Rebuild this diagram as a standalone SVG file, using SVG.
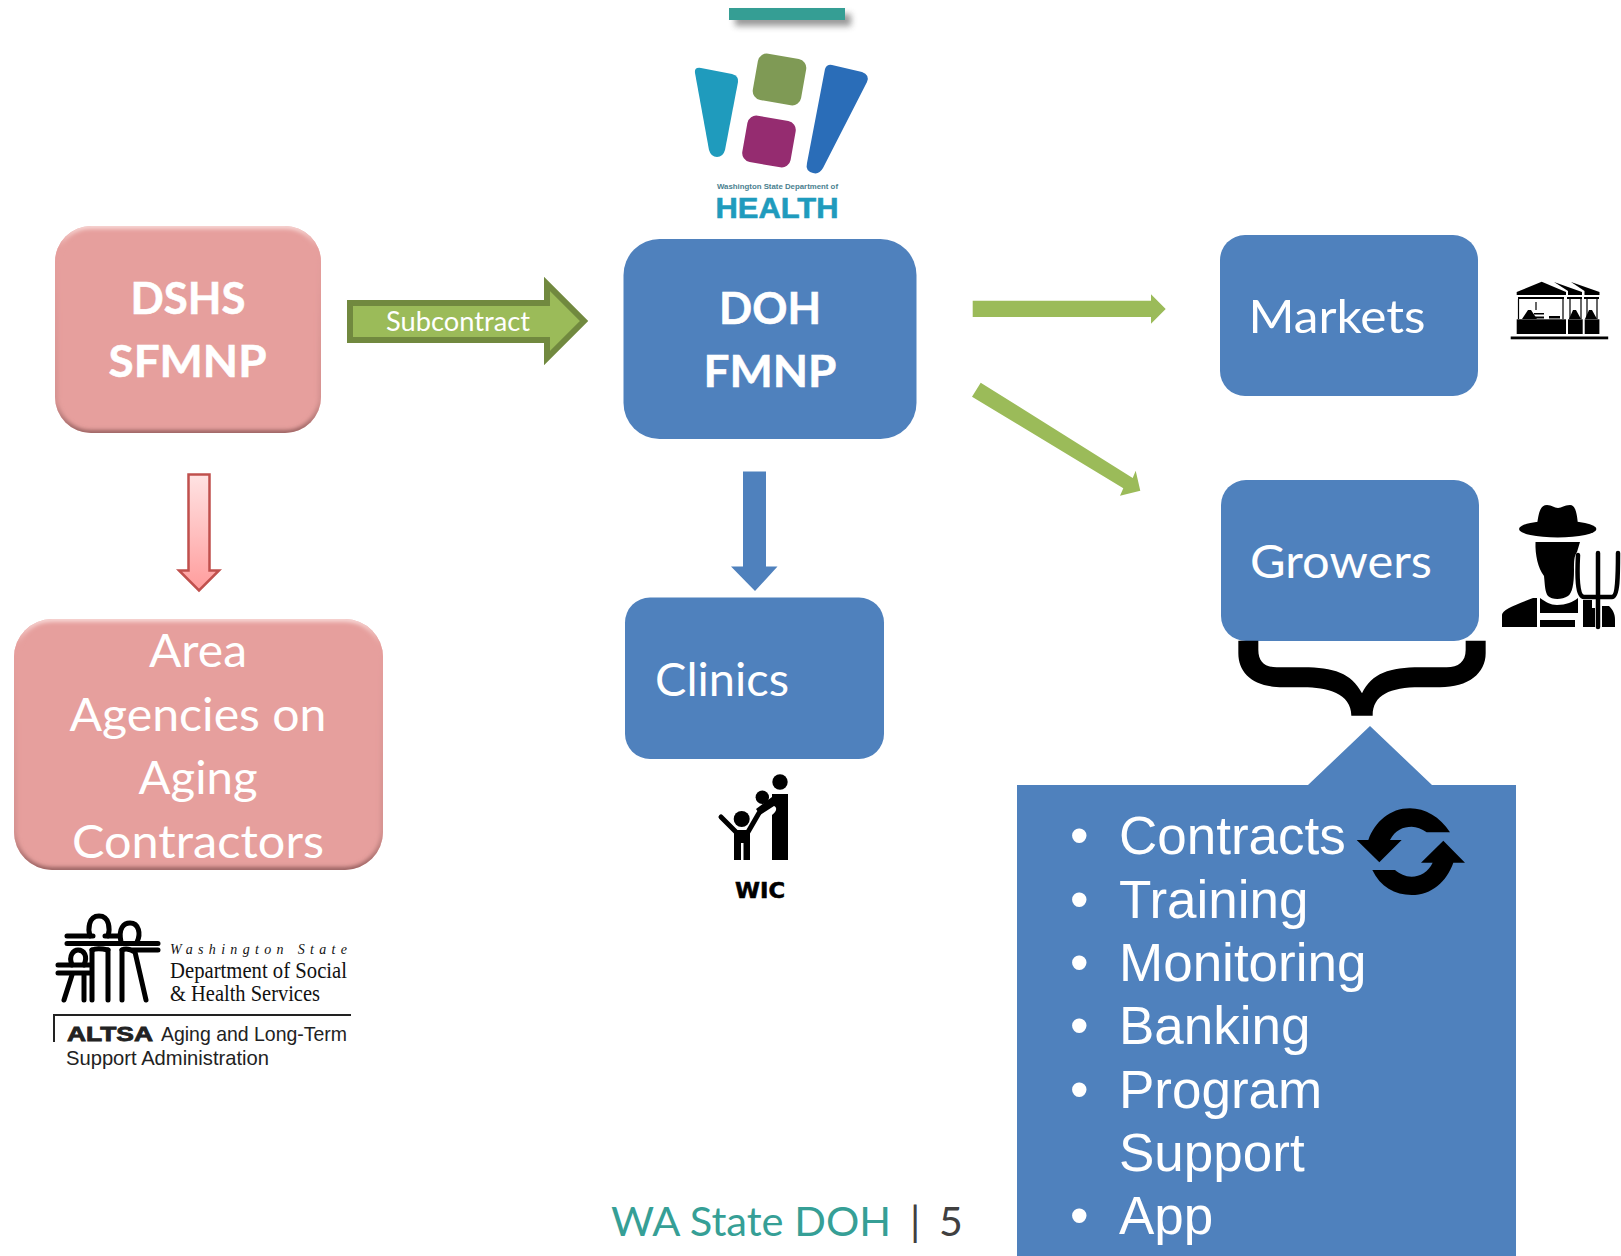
<svg xmlns="http://www.w3.org/2000/svg" width="1621" height="1256" viewBox="0 0 1621 1256">
<style>
.box{fill:#4f81bd}
.pink{fill:#e69f9d}
.w{fill:#fff;font-family:"Lato","Liberation Sans",sans-serif;text-anchor:middle}
.big{font-size:47px}
.bold{font-size:44px;font-weight:700;stroke:#fff;stroke-width:.5px}
.list{fill:#fff;font-family:"Liberation Sans",Arial,sans-serif;font-size:53px}
.k{fill:#000}
.ks{fill:none;stroke:#000;stroke-linecap:round}
.g{fill:#9bbb59}
.ds{fill:#111;font-family:"Liberation Serif",serif}
.ar{fill:#222;font-family:"Liberation Sans",sans-serif}
.foot{font-family:"Lato","Liberation Sans",sans-serif;font-weight:400;font-size:41px}
</style>
<defs>
<linearGradient id="bev" x1="0" y1="0" x2="0" y2="1"><stop offset="0" stop-color="#fbe3e1"/><stop offset=".1" stop-color="#e69f9d"/><stop offset=".85" stop-color="#d08f8d"/><stop offset="1" stop-color="#8a5756"/></linearGradient>
<linearGradient id="red" x1="0" y1="0" x2="0" y2="1"><stop offset="0" stop-color="#ffe3e3"/><stop offset="1" stop-color="#ff9c9c"/></linearGradient>
<filter id="b2" x="-10%" y="-10%" width="120%" height="120%"><feGaussianBlur stdDeviation="2"/></filter>
<filter id="b4" x="-20%" y="-100%" width="140%" height="300%"><feGaussianBlur stdDeviation="3"/></filter>
<clipPath id="c1"><rect x="55" y="226" width="266" height="207" rx="36"/></clipPath>
<clipPath id="c2"><rect x="14" y="619" width="369" height="251" rx="38"/></clipPath>
</defs>
<rect width="1621" height="1256" fill="#fff"/>

<g id="accent-bar">
<rect x="735" y="14" width="116" height="12" fill="#555" opacity=".6" filter="url(#b4)"/>
<rect x="729" y="8" width="116" height="12" fill="#359e94"/>
</g>

<g id="doh-logo">
<path d="M695,73 Q694,67 701,68 L732,74 Q739,76 738,82 L725,150 Q723,157 717,157 Q711,157 709,150 Z" fill="#1f9bbd"/>
<rect x="755" y="56" width="49" height="47" rx="9" fill="#7f9a55" transform="rotate(10 779.500 79.500)"/>
<rect x="744.500" y="118" width="49" height="47" rx="9" fill="#952c70" transform="rotate(10 769 141.500)"/>
<path d="M825,69 Q827,64 832,65 L862,72 Q870,75 867,82 L823,168 Q819,175 813,173 Q805,171 807,163 Z" fill="#2a6db8"/>
<text x="717" y="189" font-family="Liberation Sans,sans-serif" font-size="6.500" font-weight="700" fill="#4a7f8f" textLength="121" lengthAdjust="spacingAndGlyphs">Washington State Department of</text>
<text x="715.500" y="218" font-family="Liberation Sans,sans-serif" font-size="30" font-weight="700" fill="#1f9bbd" stroke="#1f9bbd" stroke-width=".6" textLength="123" lengthAdjust="spacingAndGlyphs">HEALTH</text>
</g>

<g id="dshs-sfmnp">
<rect class="pink" x="55" y="226" width="266" height="207" rx="36"/>
<rect x="55" y="226" width="266" height="207" rx="36" fill="none" stroke="url(#bev)" stroke-width="5" filter="url(#b2)" clip-path="url(#c1)"/>
<text class="w bold" x="188" y="314" textLength="115" lengthAdjust="spacingAndGlyphs">DSHS</text>
<text class="w bold" x="187.500" y="377" textLength="158" lengthAdjust="spacingAndGlyphs">SFMNP</text>
</g>

<g id="area-agencies">
<rect class="pink" x="14" y="619" width="369" height="251" rx="38"/>
<rect x="14" y="619" width="369" height="251" rx="38" fill="none" stroke="url(#bev)" stroke-width="5" filter="url(#b2)" clip-path="url(#c2)"/>
<text class="w big" x="198" y="667" textLength="98" lengthAdjust="spacingAndGlyphs">Area</text>
<text class="w big" x="198" y="731" textLength="257" lengthAdjust="spacingAndGlyphs">Agencies on</text>
<text class="w big" x="198" y="794" textLength="119" lengthAdjust="spacingAndGlyphs">Aging</text>
<text class="w big" x="198" y="857.500" textLength="252" lengthAdjust="spacingAndGlyphs">Contractors</text>
</g>

<g id="dshs-logo">
<g class="ks" stroke-width="5">
<path d="M90,936 C88,930 88,916 99,916 C110,916 110,930 108,936"/>
<path d="M67,936 H93 M105,936 H120 M121,942 C118,928 124,923 130,923 C139,923 141,934 137,942"/>
<path d="M67,943.500 H158 M133,950 H158"/>
<path d="M92,950 V1000 M108,950 V1000 M122,950 V1000"/>
<path d="M135,952 L146,1000 M92,950 C96,948 100,948 108,950 M122,950 C126,948 130,949 135,952"/>
<path d="M72,965 C68,955 74,950 78,950 C84,950 88,956 84,965"/>
<path d="M58,965 H90 M58,973 H90"/>
<path d="M72,975 L64,1000 M84,975 V1000"/>
</g>
<text class="ds" x="170" y="954" font-size="14" font-style="italic" textLength="177" font-family="Liberation Sans,sans-serif">Washington State</text>
<text class="ds" x="170" y="978" font-size="23" textLength="177" lengthAdjust="spacingAndGlyphs">Department of Social</text>
<text class="ds" x="170" y="1001" font-size="23" textLength="150" lengthAdjust="spacingAndGlyphs">&amp; Health Services</text>
<path d="M54,1042 V1015 H351" fill="none" stroke="#222" stroke-width="2"/>
<text class="ar" x="67" y="1041" font-size="20" font-weight="700" stroke="#222" stroke-width=".8" textLength="86" lengthAdjust="spacingAndGlyphs">ALTSA</text>
<text class="ar" x="161" y="1041" font-size="21" textLength="186" lengthAdjust="spacingAndGlyphs">Aging and Long-Term</text>
<text class="ar" x="66" y="1065" font-size="21" textLength="203" lengthAdjust="spacingAndGlyphs">Support Administration</text>
</g>

<g id="doh-fmnp">
<rect class="box" x="623.500" y="239" width="293" height="200" rx="36"/>
<text class="w bold" x="770" y="323.500" textLength="102" lengthAdjust="spacingAndGlyphs">DOH</text>
<text class="w bold" x="770" y="386.500" textLength="133" lengthAdjust="spacingAndGlyphs">FMNP</text>
</g>

<g id="clinics">
<rect class="box" x="625" y="597.500" width="259" height="161.500" rx="25"/>
<text class="w big" x="722" y="696" textLength="134" lengthAdjust="spacingAndGlyphs">Clinics</text>
</g>

<g id="wic-icon">
<circle class="k" cx="780" cy="782" r="7.700"/>
<path class="k" d="M772,794 H788 V860 H772 V815 C776,812 778,808 774,806 L760,815 L756,809 L772,797 Z"/>
<circle class="k" cx="762.300" cy="797.300" r="6.700"/>
<circle class="k" cx="741.700" cy="819" r="8"/>
<path class="k" d="M734,830 H750 V860 H743.500 V843 H741 V860 H734 Z"/>
<path class="ks" stroke-width="5" d="M721,817 L736,832 M748,832 L759,813"/>
<text x="735" y="898" font-family="DejaVu Sans,sans-serif" font-weight="700" font-size="22" fill="#000" stroke="#000" stroke-width=".6" textLength="50" lengthAdjust="spacingAndGlyphs">WIC</text>
</g>

<g id="markets">
<rect class="box" x="1220" y="235" width="258" height="161" rx="25"/>
<text class="w big" x="1337" y="333" textLength="177" lengthAdjust="spacingAndGlyphs">Markets</text>
</g>

<g id="market-icon">
<rect class="k" x="1510.700" y="336.500" width="97.500" height="2.800"/>
<rect class="k" x="1516.700" y="319.300" width="49.300" height="14.700"/>
<rect class="k" x="1568" y="319.300" width="14.700" height="14.700"/>
<rect class="k" x="1584.700" y="319.300" width="14.700" height="14.700"/>
<polygon class="k" points="1516.700,292 1541.700,281.700 1566,292 1566,295 1516.700,295"/>
<polygon class="k" points="1554,282 1582,292 1582,295 1568,295 1568,291"/>
<polygon class="k" points="1571,282 1599.500,292 1599.500,295 1584.500,295 1584.500,291"/>
<path d="M1518,297 H1564 V299 H1518 Z M1567,297 H1582 V299 H1567 Z M1584,297 H1599 V299 H1584 Z" class="k"/>
<path d="M1518.500,299 V319 M1563,299 V319 M1570,299 V319 M1581,299 V319 M1587,299 V319 M1597,299 V319 M1536,302 V310" stroke="#000" stroke-width="1.200" fill="none"/>
<path class="k" d="M1522,319 L1528,310 L1531,310 L1537,319 Z M1569,319 L1573,310 L1576,310 L1581,319 Z M1585,319 L1589,310 L1592,310 L1597,319 Z"/>
<rect class="k" x="1534" y="313" width="10" height="1.500"/>
<rect class="k" x="1534" y="316.500" width="10" height="2"/>
<rect class="k" x="1549" y="316" width="11" height="2.500"/>
</g>

<g id="growers">
<rect class="box" x="1221" y="480" width="258" height="161" rx="25"/>
<text class="w big" x="1341" y="578" textLength="182" lengthAdjust="spacingAndGlyphs">Growers</text>
</g>

<g id="farmer-icon">
<ellipse class="k" cx="1557.700" cy="529" rx="38.700" ry="8.500"/>
<path class="k" d="M1537,525 C1539,510 1541,505 1547,505 C1552,505 1554,508 1558,508 C1562,508 1564,505 1570,505 C1575,505 1577,512 1578,525 Z"/>
<path class="k" d="M1535.500,542 H1580 L1577,552 C1574,556 1574,562 1574,570 C1574,585 1572,593 1568,596 C1562,600 1552,600 1548,596 C1545,592 1545,586 1544,576 C1538,568 1535,555 1535.500,542 Z"/>
<path class="k" d="M1537,598 V627 H1502 V615 C1502,610 1515,605 1533,598 Z M1540,598 C1546,602 1550,605 1557,605 C1566,605 1573,602 1578,598 V613 H1540 Z M1540,620 H1575 V627 H1540 Z"/>
<path class="ks" stroke-width="4.500" d="M1578,555 C1577,575 1577,597 1584,597 H1612 C1618,597 1618,575 1618,553 M1598,553 V627"/>
<path class="k" d="M1583,600 H1592 V608 H1595 V627 H1583 Z M1602,606 H1609 C1613,610 1615,614 1615,620 V627 H1602 Z"/>
</g>

<g id="services">
<polygon class="box" points="1017,785 1308,785 1370,726 1432,785 1516,785 1516,1256 1017,1256"/>
<g class="list">
<text x="1070" y="854">•</text><text x="1119" y="854">Contracts</text>
<text x="1070" y="917.500">•</text><text x="1119" y="917.500">Training</text>
<text x="1070" y="981">•</text><text x="1119" y="981">Monitoring</text>
<text x="1070" y="1044">•</text><text x="1119" y="1044">Banking</text>
<text x="1070" y="1107.500">•</text><text x="1119" y="1107.500">Program</text>
<text x="1119" y="1170.500">Support</text>
<text x="1070" y="1234">•</text><text x="1119" y="1234">App</text>
</g>
<g transform="translate(1220 630) scale(.33333)" class="k">
<path d="M690,607 C660,560 615,535 570,535 C510,535 465,575 445,630 L410,630 L478,697 L545,630 L510,630 C525,600 550,590 575,590 C590,590 605,597 620,607 Z"/>
<path d="M457,720 C480,770 525,795 575,795 C635,795 680,755 700,698 L735,698 L670,632 L603,698 L638,698 C625,725 600,740 575,740 C555,740 540,732 525,720 Z"/>
</g>
</g>

<g id="connectors">
<polygon points="350,303 547,303 547,284 584,321 547,358 547,340 350,340" fill="#9bbb59" stroke="#71893f" stroke-width="6"/>
<text class="w" x="458" y="331" font-size="26" textLength="144" lengthAdjust="spacingAndGlyphs">Subcontract</text>
<polygon points="188.500,474.500 209.500,474.500 209.500,570.500 219,570.500 199,590.500 179,570.500 188.500,570.500" fill="url(#red)" stroke="#c0504d" stroke-width="2.500"/>
<polygon class="box" points="743,471.500 766,471.500 766,566.500 777.500,566.500 755,591 731,566.500 743,566.500"/>
<polygon class="g" points="972.700,300.700 1151,300.700 1151,294.300 1165.700,309 1151,323.700 1151,317 972.700,317"/>
<polygon class="g" points="980.700,382.700 1132.700,478 1135.700,470.700 1140.300,490.700 1120,495.700 1123.300,488.300 972,396.700"/>
<g transform="translate(1220 630) scale(.33333)" class="k">
<path d="M55,32 V70 C55,130 100,172 190,172 H250 C320,172 394,190 394,257 H458 C458,195 510,172 600,172 H660 C745,172 797,130 797,70 V32 H737 V60 C737,95 715,112 680,112 H600 C510,112 455,130 426,190 C395,130 340,112 250,112 H170 C135,112 115,95 115,60 V32 Z"/>
</g>
</g>

<g id="footer">
<text class="foot" x="611" y="1236" fill="#369f96" textLength="280" lengthAdjust="spacingAndGlyphs">WA State DOH</text>
<text class="foot" x="910" y="1236" fill="#404040">|</text>
<text class="foot" x="939" y="1236" fill="#404040">5</text>
</g>
</svg>
